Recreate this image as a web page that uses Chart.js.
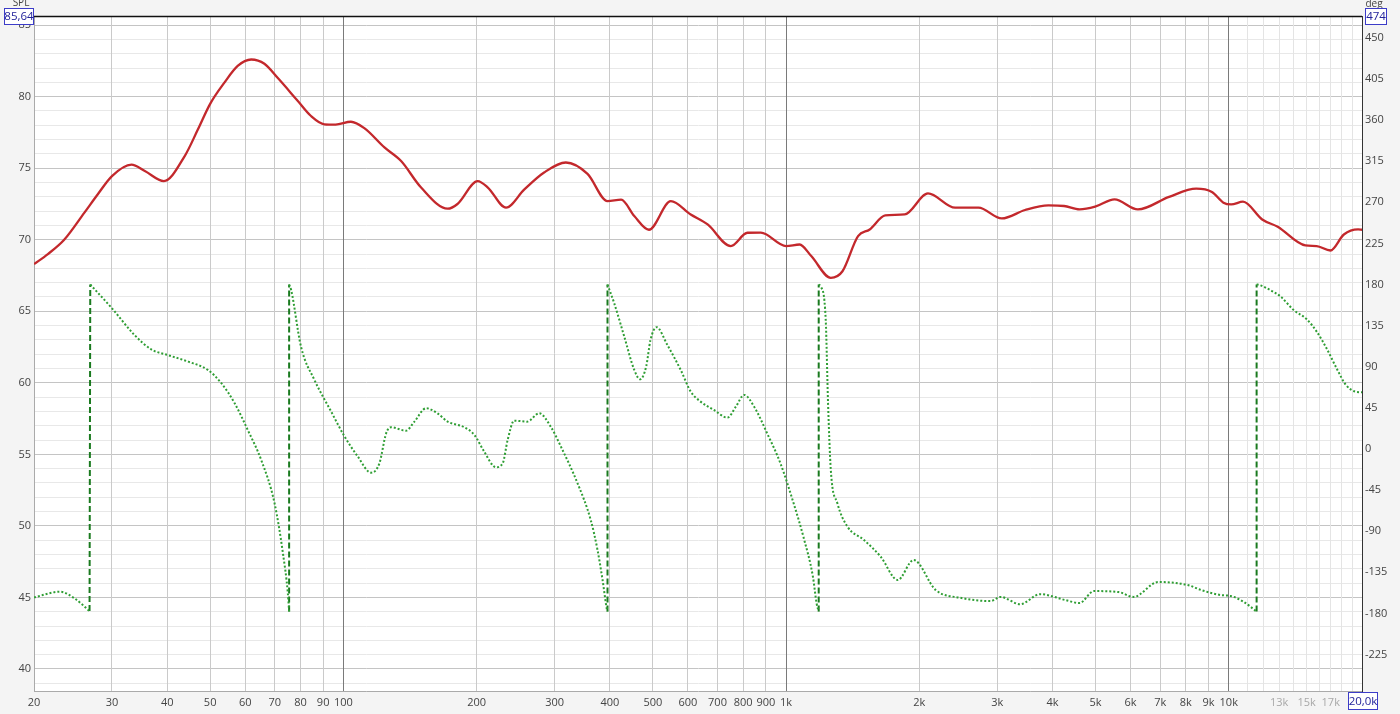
<!DOCTYPE html>
<html>
<head>
<meta charset="utf-8">
<script src="https://cdn.jsdelivr.net/npm/chart.js@4.4.1/dist/chart.umd.min.js"></script>
<style>
  html, body { margin: 0; padding: 0; background: #f4f4f4; }
  #wrap { width: 1400px; height: 714px; }
</style>
</head>
<body>
<div id="wrap"><canvas id="chart" width="1400" height="714"></canvas></div>
<script>
// SPL trace (Hz, dB)
const splFreq = [20, 21.5, 23.4, 26, 27.9, 30, 33.2, 35.6, 39.3, 43.8, 46.9, 50, 53.9, 57.7, 61.9, 66.3, 71.1, 78.9, 84.5, 90.6, 96, 104,
  111.5, 123.8, 135, 149.8, 172, 181, 201, 212, 233, 256, 284, 318, 356, 395, 424, 454, 490, 549, 609, 665, 750, 818, 877,
  1000, 1073, 1140, 1262, 1341, 1454, 1545, 1675, 1854, 2092, 2410, 2721, 3071, 3468, 3914, 4246, 4603, 4991, 5521, 6234,
  7332, 8443, 9162, 9728, 10130, 10770, 11900, 12900, 14900, 15800, 16970, 18200, 19600, 20000]
const splDb = [68.3, 69.0, 70.0, 71.9, 73.2, 74.45, 75.25, 74.8, 74.1, 75.85, 77.7, 79.5, 81.0, 82.15, 82.6, 82.3, 81.3, 79.7, 78.65, 78.07, 78.05, 78.25,
  77.8, 76.45, 75.5, 73.65, 72.17, 72.5, 74.1, 73.65, 72.24, 73.5, 74.7, 75.4, 74.6, 72.7, 72.8, 71.66, 70.7, 72.7, 71.77, 71.07, 69.56, 70.49, 70.5,
  69.56, 69.67, 68.86, 67.34, 67.8, 70.26, 70.72, 71.7, 71.77, 73.24, 72.24, 72.24, 71.49, 72.08, 72.4, 72.36, 72.12, 72.31, 72.82, 72.12,
  73.0, 73.57, 73.34, 72.59, 72.47, 72.66, 71.42, 70.91, 69.6, 69.56, 69.25, 70.37, 70.72, 70.7]

// Phase trace (Hz, deg), wrapped to +-180
const phaseFreq = [20, 22.9, 24.7, 26.7, 26.8, 30, 33.7, 36.8, 40, 44.6, 49.4, 53, 56.8, 60.8, 65.2, 69.9, 73, 74.9, 75.4,
  75.4, 76.2, 80.2, 86, 93.8, 100.5, 107.8, 115.5, 120.6, 124.9, 128.1, 138.5, 144.7, 153.7, 163, 172, 187.5, 197.7, 208, 221, 229,
  235, 243, 260, 277, 294, 310, 338, 362, 375, 385, 394, 395,
  395, 409, 431, 454, 468, 483, 494, 510, 539, 578, 609, 641, 687, 737, 770, 804, 847, 906, 971, 1040, 1094, 1150, 1172, 1185,
  1185, 1198, 1229, 1244, 1262, 1306, 1376, 1500, 1636, 1787, 1941, 2178, 2478, 2897, 3050, 3380, 3750, 4270, 4600, 4960,
  5640, 6090, 6930, 8080, 8670, 9600, 10100, 10800, 11560,
  11560, 11700, 12400, 13100, 14000, 15000, 15800, 16700, 17600, 18400, 19300, 20000]
const phaseDeg = [-162.5, -156.3, -163.6, -177.5, 180, 154, 125, 109, 103, 95.6, 86.5, 72, 50, 20.8, -12, -59.5, -114, -158, -178,
  180, 174, 112, 75.6, 41, 14, -8.4, -26, -15.7, 17.2, 23.8, 20, 30, 44.6, 39.1, 29.9, 23.8, 15.3, -3, -20, -15.7,
  9.9, 31, 29.9, 39.1, 24.4, 2.5, -37.6, -77.8, -110.6, -143.5, -176.4, -178,
  180, 159.6, 123, 86.5, 76.3, 90.2, 119.4, 133.3, 114, 86.5, 62.8, 51.8, 42.7, 34.3, 46.3, 59.2, 46.3, 17.2, -15.7, -59.5, -96, -140, -169, -178,
  180, 177.8, 141.3, 50, -23, -59.5, -85, -99.7, -118, -143.5, -121.6, -154.5, -163, -166.5, -162, -170, -159, -165.4, -168.7, -155.6,
  -156.7, -162, -145.7, -149, -154.5, -160, -161, -167.3, -178,
  180, 179.7, 174, 166.8, 152.3, 142, 128.5, 108.5, 86.5, 70, 62.8, 62]

// axis ticks
const xTicks = [20, 30, 40, 50, 60, 70, 80, 90, 100, 200, 300, 400, 500, 600, 700, 800, 900, 1000,
  2000, 3000, 4000, 5000, 6000, 7000, 8000, 9000, 10000, 11000, 12000, 13000, 14000, 15000, 16000, 17000, 18000, 19000, 20000]
const xTickLabels = ['20', '30', '40', '50', '60', '70', '80', '90', '100', '200', '300', '400', '500', '600', '700', '800', '900', '1k',
  '2k', '3k', '4k', '5k', '6k', '7k', '8k', '9k', '10k', '', '', '13k', '', '15k', '', '17k', '', '', '']
const splTicks = [40, 45, 50, 55, 60, 65, 70, 75, 80, 85]
const degTicks = [-225, -180, -135, -90, -45, 0, 45, 90, 135, 180, 225, 270, 315, 360, 405, 450]
const splMin = 38.46, splMax = 85.64
const degMin = -265, degMax = 474

const FONT = "'Open Sans', 'Noto Sans', sans-serif"

// split phase at the wraps
const phaseRuns = []
const wrapLines = []
let run = []
phaseFreq.forEach((f, i) => {
  const p = { x: f, y: phaseDeg[i] }
  if (run.length && Math.abs(p.y - run[run.length - 1].y) > 270) {
    wrapLines.push([run[run.length - 1], p])
    phaseRuns.push(run)
    run = []
  }
  run.push(p)
})
phaseRuns.push(run)

const datasets = [{
  label: 'SPL',
  data: splFreq.map((f, i) => ({ x: f, y: splDb[i] })),
  yAxisID: 'y',
  borderColor: '#c3282c',
  borderWidth: 2.3,
  cubicInterpolationMode: 'monotone',
  pointRadius: 0
}]
phaseRuns.forEach(r => datasets.push({
  label: 'Phase',
  data: r,
  yAxisID: 'y1',
  borderColor: '#2f9e34',
  borderWidth: 2,
  borderDash: [2, 2],
  cubicInterpolationMode: 'monotone',
  pointRadius: 0
}))
wrapLines.forEach(w => datasets.push({
  label: 'wrap',
  data: w,
  yAxisID: 'y1',
  borderColor: '#1a7a1f',
  borderWidth: 2,
  borderDash: [6, 3],
  tension: 0,
  pointRadius: 0
}))

const minorSpl = []
for (let v = Math.ceil(splMin); v <= splMax; v++) minorSpl.push(v)

const frame = {
  id: 'frame',
  beforeDraw(chart) {
    const { ctx, chartArea: a } = chart
    ctx.save()
    ctx.fillStyle = '#f4f4f4'
    ctx.fillRect(0, 0, chart.width, chart.height)
    ctx.fillStyle = '#ffffff'
    ctx.fillRect(a.left, a.top, a.right - a.left, a.bottom - a.top)
    ctx.restore()
  },
  afterDraw(chart) {
    const { ctx, chartArea: a } = chart
    ctx.save()
    ctx.strokeStyle = '#111'
    ctx.lineWidth = 1.5
    ctx.beginPath()
    ctx.moveTo(a.left, a.top + 0.5)
    ctx.lineTo(a.right, a.top + 0.5)
    ctx.stroke()

    ctx.font = '10px ' + FONT
    ctx.fillStyle = '#444'
    ctx.textAlign = 'center'
    ctx.textBaseline = 'middle'
    ctx.fillText('SPL', 21, 3)
    ctx.fillText('deg', 1374, 4)

    const box = (txt, x, y, w, h) => {
      ctx.fillStyle = '#fff'
      ctx.fillRect(x, y, w, h)
      ctx.strokeStyle = '#3c3cc8'
      ctx.lineWidth = 1
      ctx.strokeRect(x + 0.5, y + 0.5, w - 1, h - 1)
      ctx.fillStyle = '#22229a'
      ctx.font = '11.5px ' + FONT
      ctx.fillText(txt, x + w / 2, y + h / 2 + 0.5)
    }
    box('85,64', 4, 8, 30, 17)
    box('474', 1365, 8, 22, 17)
    box('20,0k', 1348, 692, 30, 18)
    ctx.restore()
  }
}

new Chart(document.getElementById('chart'), {
  type: 'line',
  data: { datasets },
  plugins: [frame],
  options: {
    responsive: false,
    animation: false,
    devicePixelRatio: 1,
    layout: { padding: { top: 16, left: 0, right: 0, bottom: 0 } },
    plugins: { legend: { display: false }, tooltip: { enabled: false } },
    scales: {
      x: {
        type: 'logarithmic',
        min: 20,
        max: 20000,
        afterFit: s => { s.height = 23 },
        afterBuildTicks: s => { s.ticks = xTicks.map(v => ({ value: v })) },
        border: { color: '#aaa' },
        grid: {
          drawTicks: false,
          z: -1,
          color: c => {
            const v = c.tick && c.tick.value
            if (v === 100 || v === 1000 || v === 10000) return '#7a7a7a'
            if (v > 10000 && v < 20000) return '#e4e4e4'
            return '#cacaca'
          }
        },
        ticks: {
          autoSkip: false,
          maxRotation: 0,
          padding: 5,
          font: { family: FONT, size: 11 },
          color: c => (c.tick && c.tick.value > 10000 ? '#a8a8a8' : '#444'),
          callback: (v, i) => xTickLabels[xTicks.indexOf(v)] ?? ''
        }
      },
      y: {
        position: 'left',
        min: splMin,
        max: splMax,
        afterFit: s => { s.width = 34 },
        afterBuildTicks: s => { s.ticks = minorSpl.map(v => ({ value: v })) },
        border: { color: '#aaa' },
        grid: {
          drawTicks: false,
          z: -2,
          color: c => (c.tick && splTicks.includes(c.tick.value) ? '#c4c4c4' : '#e8e8e8')
        },
        ticks: {
          autoSkip: false,
          padding: 3,
          font: { family: FONT, size: 11 },
          color: '#444',
          callback: v => (splTicks.includes(v) ? String(v) : '')
        }
      },
      y1: {
        position: 'right',
        min: degMin,
        max: degMax,
        afterFit: s => { s.width = 38 },
        afterBuildTicks: s => { s.ticks = degTicks.map(v => ({ value: v })) },
        border: { color: '#333' },
        grid: { display: false, drawTicks: false },
        ticks: {
          autoSkip: false,
          padding: 3,
          font: { family: FONT, size: 11 },
          color: '#444',
          callback: v => String(v)
        }
      }
    }
  }
})
</script>
</body>
</html>
